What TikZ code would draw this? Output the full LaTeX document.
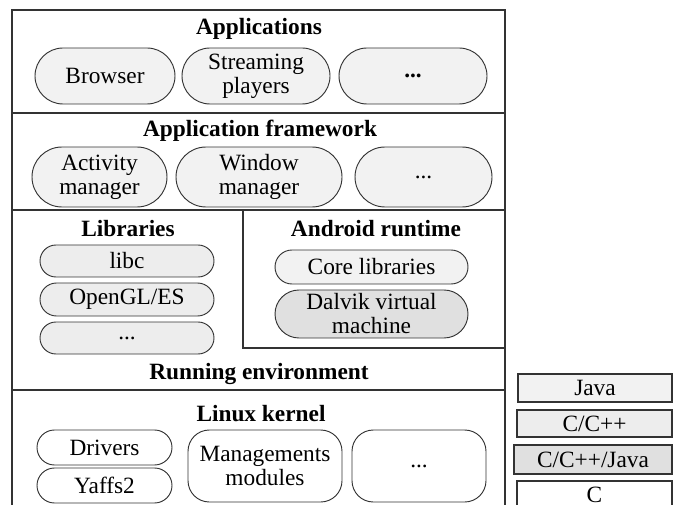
\documentclass[tikz,border=0pt]{standalone}
\usepackage{fontspec}
\setmainfont{Liberation Serif}
\usetikzlibrary{shapes.misc}
\definecolor{javafill}{gray}{0.95}
\definecolor{cppfill}{gray}{0.93}
\definecolor{mixfill}{gray}{0.88}
\definecolor{linegray}{gray}{0.2}

\begin{document}
\begin{tikzpicture}[x=0.75pt, y=-0.75pt,
  every node/.style={font=\fontsize{17.5}{18}\selectfont, align=center, inner sep=0pt},
  title/.style={font=\fontsize{17.5}{18}\selectfont\bfseries},
  frame/.style={draw=linegray, line width=0.9pt},
  capsule/.style={draw=linegray, rounded rectangle, line width=0.7pt, fill=javafill},
  rbox/.style={draw=linegray, rectangle, rounded corners=16pt, line width=0.7pt},
  legbox/.style={draw=linegray, rectangle, line width=0.8pt},
  sz/.style 2 args={minimum width=#1, minimum height=#2}]
  \clip (0,0) rectangle (673,505);

  \draw[frame] (12,510) -- (12,10) -- (505,10) -- (505,510);
  \draw[frame] (12,113) -- (505,113);
  \draw[frame] (12,210) -- (505,210);
  \draw[frame] (243,210) -- (243,348) -- (505,348);
  \draw[frame] (12,390) -- (505,390);

  \node[title] (apps) at (259,29) {Applications};
  \node[capsule, sz={105pt}{42pt}] (browser) at (105,76) {Browser};
  \node[capsule, sz={111pt}{42pt}] (streaming) at (256,76) {Streaming\\players};
  \node[capsule, sz={111pt}{42pt}] (appdots) at (413,76) {\textbf{...}};

  \node[title] (framework) at (260,131) {Application framework};
  \node[capsule, sz={101.25pt}{45pt}] (activity) at (99.5,177) {Activity\\manager};
  \node[capsule, sz={124.5pt}{45pt}] (window) at (259,177) {Window\\manager};
  \node[capsule, sz={102.75pt}{45pt}] (fwdots) at (423.5,177) {...};

  \node[title] (libs) at (128,229) {Libraries};
  \node[capsule, fill=cppfill, sz={130.5pt}{24pt}] (libc) at (127,261) {libc};
  \node[capsule, fill=cppfill, sz={130.5pt}{24.75pt}] (opengl) at (127,299.5) {OpenGL/ES};
  \node[capsule, fill=cppfill, sz={130.5pt}{24pt}] (libdots) at (127,338) {...};

  \node[title] (runtime) at (376,229) {Android runtime};
  \node[capsule, sz={144.75pt}{25.5pt}] (corelib) at (371.5,267) {Core libraries};
  \node[capsule, fill=mixfill, sz={144.75pt}{36pt}] (dalvik) at (371.5,314) {Dalvik virtual\\machine};

  \node[title] (runenv) at (259,374) {Running environment};

  \node[title] (kernel) at (261,414) {Linux kernel};
  \node[capsule, fill=white, sz={101.25pt}{26.25pt}] (drivers) at (104.5,447.5) {Drivers};
  \node[capsule, fill=white, sz={101.25pt}{26.25pt}] (yaffs) at (104.5,485.5) {Yaffs2};
  \node[rbox, sz={115.5pt}{54pt}] (mgmt) at (265,466) {Managements\\modules};
  \node[rbox, sz={100.5pt}{54pt}] (kerneldots) at (419,466) {...};

  \node[legbox, fill=javafill, sz={115.5pt}{21pt}] (legjava) at (595,388) {Java};
  \node[legbox, fill=cppfill, sz={116.25pt}{20.25pt}] (legcpp) at (594.5,423.5) {C/C++};
  \node[legbox, fill=mixfill, sz={118.5pt}{21.75pt}] (legmix) at (593,459.5) {C/C++/Java};
  \node[legbox, fill=white, sz={116.25pt}{21pt}] (legc) at (594.5,495) {C};
\end{tikzpicture}
\end{document}
